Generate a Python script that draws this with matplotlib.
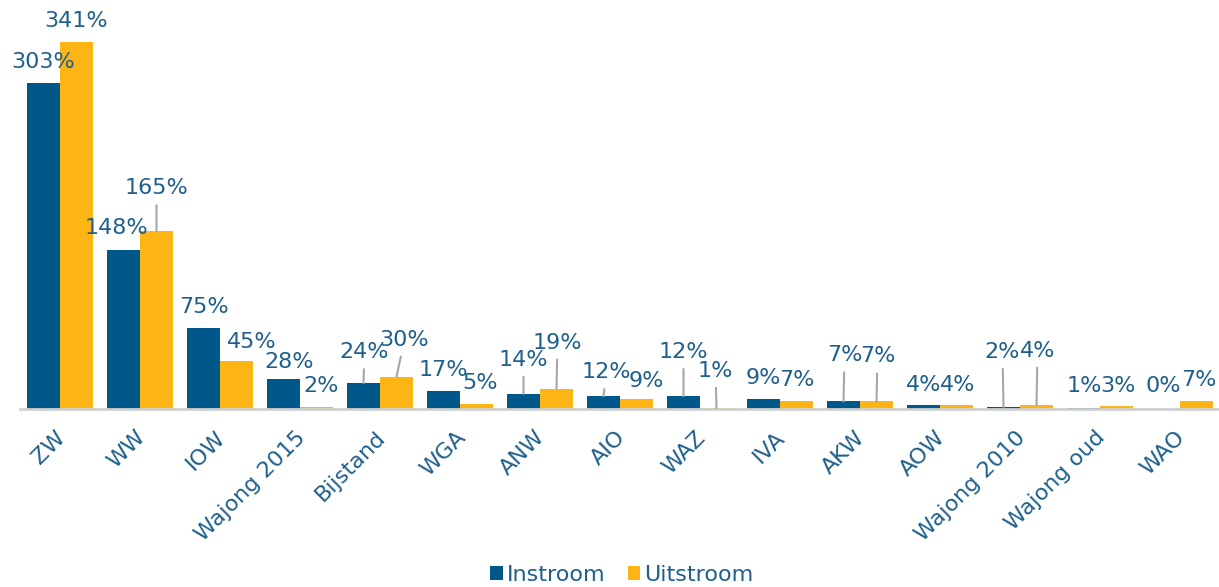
import numpy as np
import matplotlib
matplotlib.use('Agg')
import matplotlib.pyplot as plt
from matplotlib.transforms import ScaledTranslation

# data
categorieen = ['ZW', 'WW', 'IOW', 'Wajong 2015', 'Bijstand', 'WGA', 'ANW', 'AIO',
               'WAZ', 'IVA', 'AKW', 'AOW', 'Wajong 2010', 'Wajong oud', 'WAO']
instroom = [303, 148, 75, 28, 24, 17, 14, 12, 12, 9, 7, 4, 2, 1, 0]
uitstroom = [341, 165, 45, 2, 30, 5, 19, 9, 1, 7, 7, 4, 4, 3, 7]

# label offsets (pixels, relative to bar top centre) and leader line flags
off_in = [(0, 21), (-7, 22), (0, 21), (6, 17), (1, 31), (0, 21), (0, 34), (3, 24),
          (0, 44), (0, 21), (1, 46), (0, 20), (-1, 55), (1, 22), (0, 23)]
lead_in = [0, 0, 0, 0, 1, 0, 1, 1, 1, 0, 1, 0, 1, 0, 0]
off_uit = [(0, 21), (0, 43), (15, 19), (5, 21), (8, 37), (4, 21), (1, 46), (10, 18),
           (-1, 37), (0, 21), (1, 45), (1, 20), (1, 54), (1, 20), (2, 21)]
lead_uit = [0, 1, 0, 0, 1, 0, 1, 0, 1, 0, 1, 0, 1, 0, 0]

blauw = '#00578a'
oranje = '#fdb515'
tekst = '#1f5f8b'
grijs = '#a6a6a6'

plt.rcParams['font.family'] = 'DejaVu Sans'

fig = plt.figure(figsize=(12.19, 5.87), dpi=100)
ax = fig.add_axes([20/1219, 178/587, 1200/1219, 377/587])

x = np.arange(len(categorieen))
w = 0.4125
b1 = ax.bar(x - w/2, instroom, w, color=blauw, label='Instroom')
b2 = ax.bar(x + w/2, uitstroom, w, color=oranje, label='Uitstroom')

def labels(xs, vals, offs, leads):
    for xi, v, (dx, dy), l in zip(xs, vals, offs, leads):
        kw = {}
        if l:
            kw['arrowprops'] = dict(arrowstyle='-', color=grijs, lw=1.5,
                                    shrinkA=3, shrinkB=0)
        ax.annotate('%d%%' % v, xy=(xi, v), xytext=(dx, dy),
                    textcoords='offset pixels', ha='center', va='center',
                    fontsize=16, color=tekst, **kw)

labels(x - w/2, instroom, off_in, lead_in)
labels(x + w/2, uitstroom, off_uit, lead_uit)

ax.set_xlim(-0.5, len(categorieen) - 0.5)
ax.set_ylim(0, 350)
ax.set_yticks([])
ax.set_xticks(x)
ax.set_xticklabels(categorieen, rotation=45, ha='right', rotation_mode='anchor',
                   fontsize=16, color=tekst)
ax.tick_params(axis='x', length=0, pad=13)
verschuif = ScaledTranslation(-5/100, 0, fig.dpi_scale_trans)
for lbl in ax.get_xticklabels():
    lbl.set_transform(lbl.get_transform() + verschuif)
for s in ['top', 'right', 'left']:
    ax.spines[s].set_visible(False)
ax.spines['bottom'].set_color('#d0d0d0')
ax.spines['bottom'].set_linewidth(2)

leg = fig.legend(handles=[b1, b2], loc='center', bbox_to_anchor=(622/1219, 1 - 575/587),
                 ncol=2, frameon=False, fontsize=16, handlelength=0.55,
                 handleheight=0.55, handletextpad=0.2, columnspacing=1.0)
for t in leg.get_texts():
    t.set_color(tekst)

fig.savefig('out.png', dpi=100)
